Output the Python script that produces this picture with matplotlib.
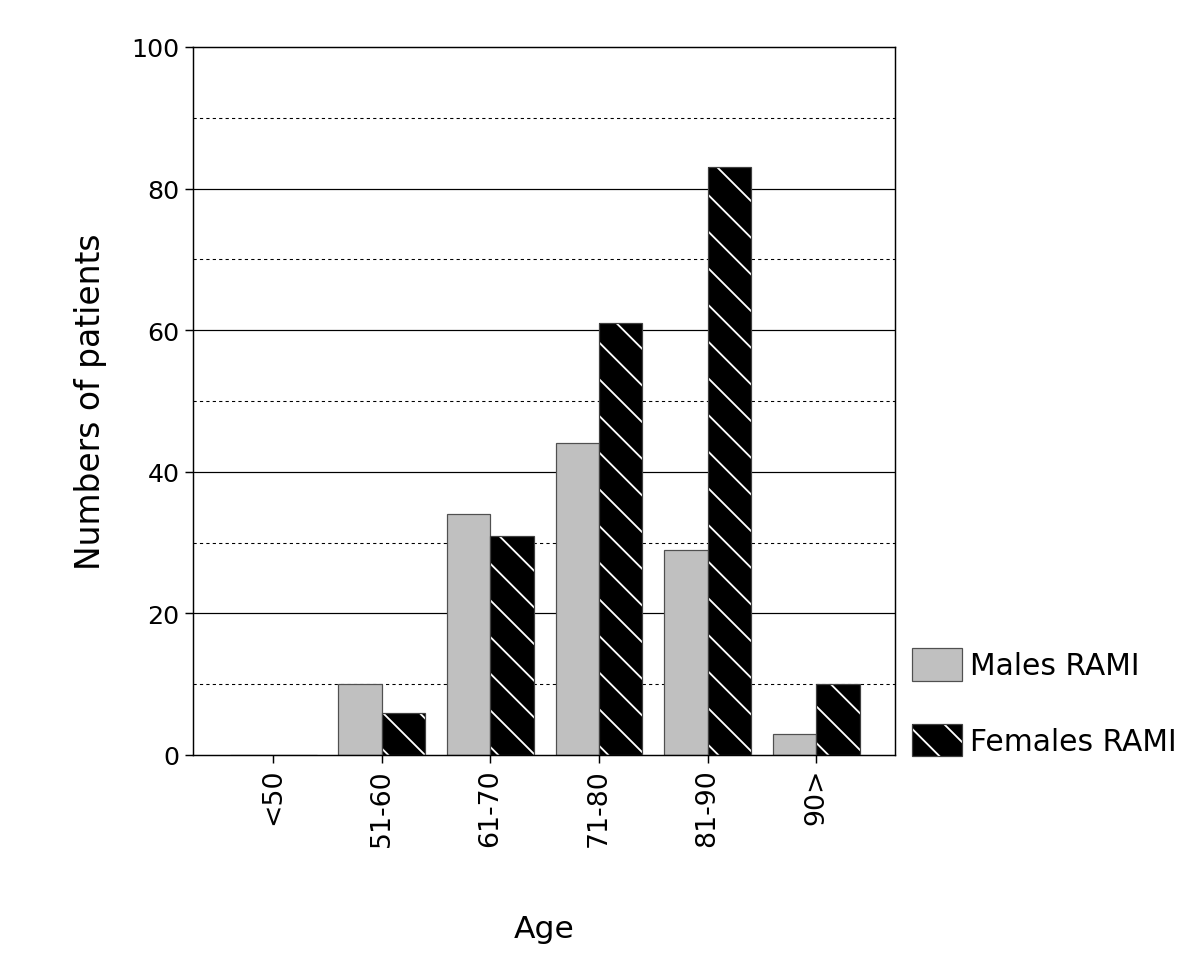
import numpy as np
import matplotlib
matplotlib.use('Agg')
import matplotlib.pyplot as plt
from matplotlib.patches import Patch
from matplotlib.legend_handler import HandlerTuple

# data
age_groups = ['<50', '51-60', '61-70', '71-80', '81-90', '90>']
males = [0, 10, 34, 44, 29, 3]
females = [0, 6, 31, 61, 83, 10]

plt.rcParams['hatch.linewidth'] = 1.2
plt.rcParams['font.family'] = ['DejaVu Sans']

# dpi 110 so that the hatch spacing comes out close to the original
fig = plt.figure(figsize=(1200 / 110, 960 / 110), dpi=110)
ax = fig.add_axes([0.161, 0.2125, 0.585, 0.7375])

x = np.arange(len(age_groups))
w = 0.4

# grid lines behind the bars
for y in [20, 40, 60, 80]:
    ax.axhline(y, color='black', lw=0.8, zorder=0)
for y in [10, 30, 50, 70, 90]:
    ax.axhline(y, color='black', lw=0.7, ls=(0, (3, 3)), zorder=0)

ax.bar(x - w / 2, males, w, color='#c0c0c0', edgecolor='#505050', lw=0.8, zorder=2)
# females: black with white diagonal hatch, then a dark outline on top
ax.bar(x + w / 2, females, w, color='black', edgecolor='white', lw=0, hatch='\\', zorder=2)
ax.bar(x + w / 2, females, w, fill=False, edgecolor='#404040', lw=0.8, zorder=3)

ax.set_xlim(-0.736, 5.727)
ax.set_ylim(0, 100)
ax.set_yticks([0, 20, 40, 60, 80, 100])
ax.set_xticks(x)
ax.set_xticklabels(age_groups, rotation=90)
ax.tick_params(axis='both', length=5.5, width=0.95, direction='out')
ax.tick_params(axis='y', labelsize=16.5)
ax.tick_params(axis='x', labelsize=17.5, pad=3)
for s in ax.spines.values():
    s.set_linewidth(0.95)

ax.set_ylabel('Numbers of patients', fontsize=21.5, labelpad=16)
ax.set_xlabel('Age', fontsize=20.5, labelpad=45)

h_m = Patch(facecolor='#c0c0c0', edgecolor='#505050', lw=0.8)
h_f1 = Patch(facecolor='black', edgecolor='white', lw=0, hatch='\\')
h_f2 = Patch(fill=False, edgecolor='#404040', lw=0.8)
ax.legend([h_m, (h_f1, h_f2)], ['Males RAMI', 'Females RAMI'],
          handler_map={tuple: HandlerTuple(ndivide=1, pad=0)},
          loc='lower left', bbox_to_anchor=(1.024, -0.002), frameon=False,
          fontsize=19.5, handlelength=1.66, handleheight=1.3,
          labelspacing=1.45, handletextpad=0.27, borderpad=0, borderaxespad=0)

fig.savefig('out.png', dpi=110)
